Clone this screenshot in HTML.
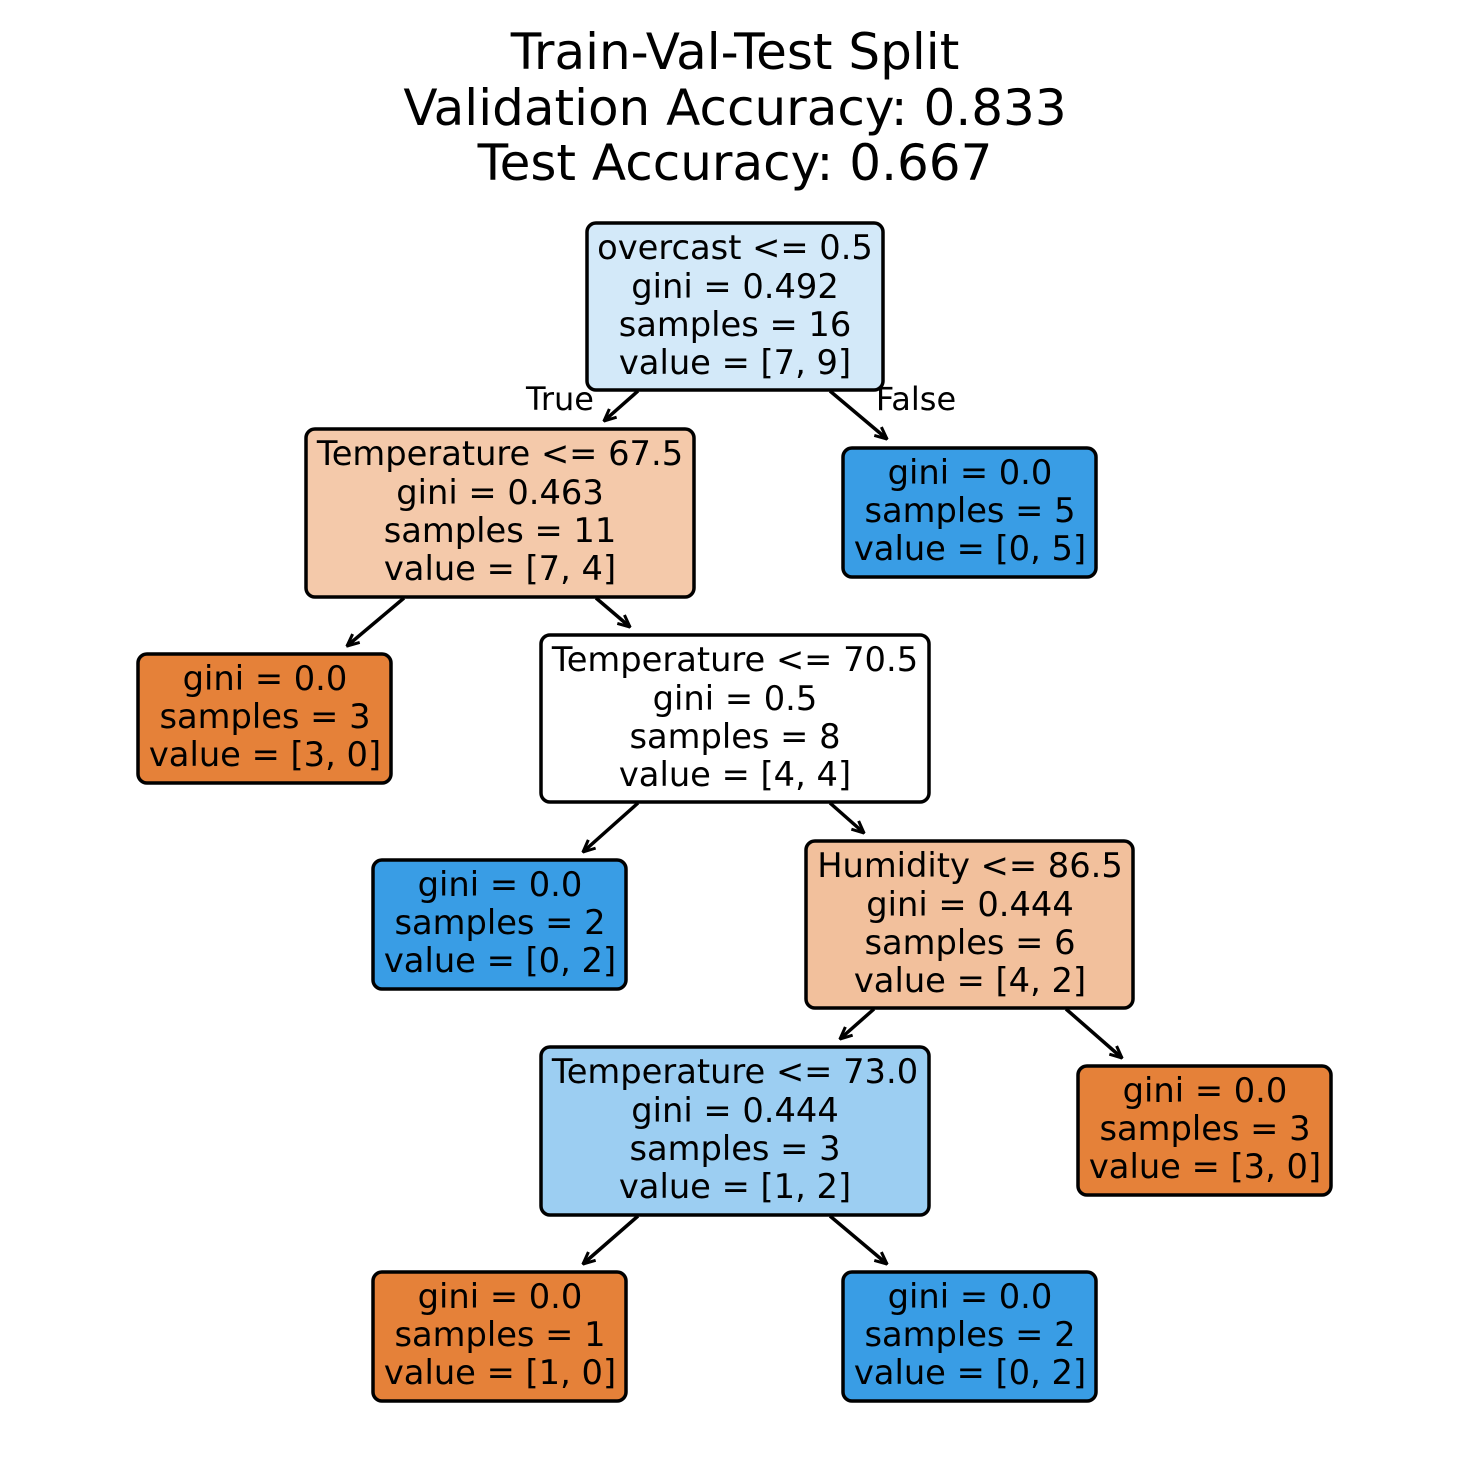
<!DOCTYPE html>
<html><head><meta charset="utf-8"><style>
html,body{margin:0;padding:0;background:#fff;}
svg text{font-family:"DejaVu Sans","Liberation Sans",sans-serif;fill:#000;}
</style></head><body>
<svg width="1470" height="1470" viewBox="0 0 1470 1470" xmlns="http://www.w3.org/2000/svg">
<defs>
<marker id="a" viewBox="0 0 14 14" refX="13" refY="7" markerWidth="14" markerHeight="14" markerUnits="userSpaceOnUse" orient="auto">
<path d="M1,1.5 L13,7 L1,12.5" fill="none" stroke="#000" stroke-width="3"/>
</marker>
</defs>
<g font-size="50" text-anchor="middle">
<text x="735" y="69">Train-Val-Test Split</text>
<text x="735" y="125">Validation Accuracy: 0.833</text>
<text x="735" y="180">Test Accuracy: 0.667</text>
</g>
<g stroke="#000" stroke-width="3.5" fill="none" marker-end="url(#a)">
<line x1="638" y1="391" x2="604" y2="421"/>
<line x1="830" y1="391" x2="887" y2="439"/>
<line x1="404" y1="598" x2="347" y2="646"/>
<line x1="596" y1="598" x2="630" y2="627"/>
<line x1="638" y1="803" x2="583" y2="852"/>
<line x1="830" y1="803" x2="864" y2="833"/>
<line x1="874" y1="1009" x2="840" y2="1039"/>
<line x1="1066" y1="1009" x2="1122" y2="1058"/>
<line x1="638" y1="1216" x2="583" y2="1264"/>
<line x1="830" y1="1216" x2="887" y2="1264"/>
</g>
<g font-size="32" text-anchor="middle">
<text x="560" y="410">True</text>
<text x="916" y="410">False</text>
</g>
<g stroke="#000" stroke-width="3.5">
<rect x="587" y="223" width="296" height="167" rx="9" fill="#d3e9f9"/>
<rect x="306" y="429" width="388" height="168" rx="9" fill="#f4c9aa"/>
<rect x="843" y="448" width="253" height="129" rx="9" fill="#399de5"/>
<rect x="138" y="654" width="253" height="129" rx="9" fill="#e58139"/>
<rect x="541" y="635" width="388" height="167" rx="9" fill="#ffffff"/>
<rect x="373" y="860" width="253" height="129" rx="9" fill="#399de5"/>
<rect x="806" y="841" width="327" height="167" rx="9" fill="#f2c09c"/>
<rect x="541" y="1047" width="388" height="168" rx="9" fill="#9ccef2"/>
<rect x="1078" y="1066" width="253" height="129" rx="9" fill="#e58139"/>
<rect x="373" y="1272" width="253" height="129" rx="9" fill="#e58139"/>
<rect x="843" y="1272" width="253" height="129" rx="9" fill="#399de5"/>
</g>
<g font-size="33.7" text-anchor="middle">
<text x="735" y="259">overcast &lt;= 0.5</text>
<text x="735" y="298">gini = 0.492</text>
<text x="735" y="336">samples = 16</text>
<text x="735" y="374">value = [7, 9]</text>

<text x="500" y="465">Temperature &lt;= 67.5</text>
<text x="500" y="504">gini = 0.463</text>
<text x="500" y="542">samples = 11</text>
<text x="500" y="580">value = [7, 4]</text>

<text x="970" y="484">gini = 0.0</text>
<text x="970" y="522">samples = 5</text>
<text x="970" y="560">value = [0, 5]</text>

<text x="265" y="690">gini = 0.0</text>
<text x="265" y="728">samples = 3</text>
<text x="265" y="766">value = [3, 0]</text>

<text x="735" y="671">Temperature &lt;= 70.5</text>
<text x="735" y="710">gini = 0.5</text>
<text x="735" y="748">samples = 8</text>
<text x="735" y="786">value = [4, 4]</text>

<text x="500" y="896">gini = 0.0</text>
<text x="500" y="934">samples = 2</text>
<text x="500" y="972">value = [0, 2]</text>

<text x="970" y="877">Humidity &lt;= 86.5</text>
<text x="970" y="916">gini = 0.444</text>
<text x="970" y="954">samples = 6</text>
<text x="970" y="992">value = [4, 2]</text>

<text x="735" y="1083">Temperature &lt;= 73.0</text>
<text x="735" y="1122">gini = 0.444</text>
<text x="735" y="1160">samples = 3</text>
<text x="735" y="1198">value = [1, 2]</text>

<text x="1205" y="1102">gini = 0.0</text>
<text x="1205" y="1140">samples = 3</text>
<text x="1205" y="1178">value = [3, 0]</text>

<text x="500" y="1308">gini = 0.0</text>
<text x="500" y="1346">samples = 1</text>
<text x="500" y="1384">value = [1, 0]</text>

<text x="970" y="1308">gini = 0.0</text>
<text x="970" y="1346">samples = 2</text>
<text x="970" y="1384">value = [0, 2]</text>
</g>
</svg>
</body></html>
